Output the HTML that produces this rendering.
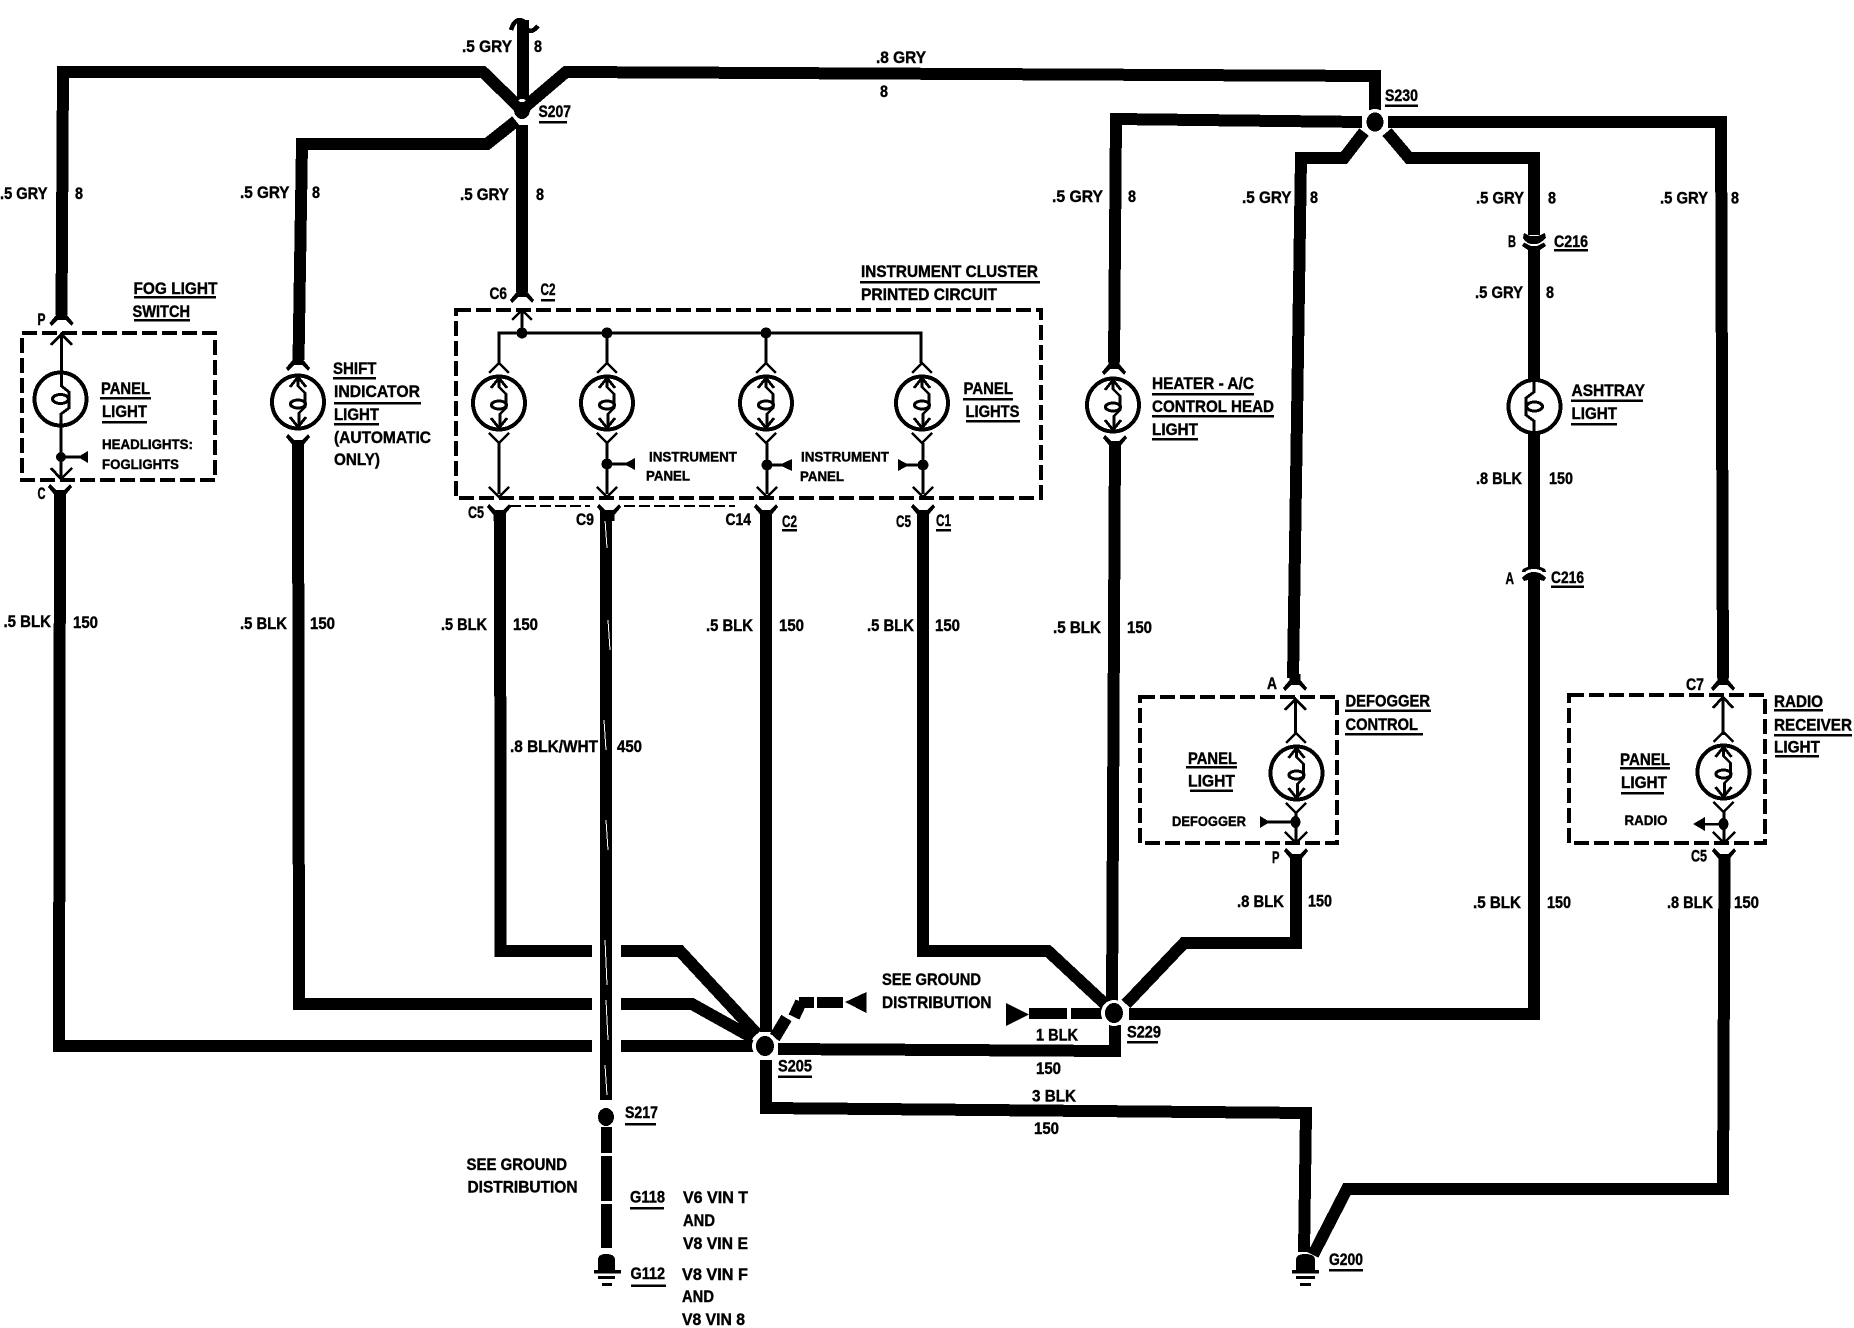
<!DOCTYPE html>
<html><head><meta charset="utf-8"><style>
html,body{margin:0;padding:0;background:#fff}
svg{display:block;shape-rendering:crispEdges}
text{font-family:"Liberation Sans",sans-serif;font-weight:bold;font-size:16.5px;fill:#000;stroke:#000;stroke-width:.4}
text.s{font-size:14px}
.w{fill:none;stroke:#000;stroke-width:12;stroke-linejoin:miter}
.t{fill:none;stroke:#000;stroke-width:2.8}
.b{fill:none;stroke:#000;stroke-width:4;stroke-dasharray:15 5}
.u{stroke:#000;stroke-width:2.5}
</style></head><body>
<svg xmlns="http://www.w3.org/2000/svg" width="1854" height="1328" viewBox="0 0 1854 1328">
<defs>
<path id="fd" d="M-5.500,-16 H5.500 V-10 L12,-2 L10,1 L4,-5 H-4 L-10,1 L-12,-2 L-5.500,-10Z"/>
<g id="ic"><path class="t" d="M-10,-30 L0,-40 L10,-30 M-10,30 L0,40 L10,30"/></g>
<g id="lamp">
<ellipse rx="26" ry="26.500" fill="#fff" stroke="#000" stroke-width="4"/>
<path class="t" d="M-8,-15 L0,-25 L8,-15 M-8,15 L0,25 L8,15 M0,-25 V-16 L7,-9 V5 L1,11 V25"/>
<ellipse cx="0" cy="2" rx="7.500" ry="4" fill="none" stroke="#000" stroke-width="3"/>
</g>
<g id="plain">
<ellipse rx="26" ry="26.500" fill="#fff" stroke="#000" stroke-width="4"/>
<ellipse cx="0" cy="0" rx="8" ry="4.500" fill="none" stroke="#000" stroke-width="3"/>
</g>
</defs>
<rect width="1854" height="1328" fill="#fff"/>

<!-- wires -->
<path class="w" d="M61.500,315 L63,72 L483,72 L520,108"/>
<path class="w" d="M523,20 V105"/>
<path d="M511,30 Q515,17 523,21 Q528,38 538,26" fill="none" stroke="#000" stroke-width="4.500"/>
<path class="w" d="M526,106 L566,72 L1375,76 L1375,110"/>
<path class="w" d="M516,121 L487,144 L302,144 L298.500,360"/>
<path class="w" d="M522,125 V292"/>
<path class="w" d="M298,442 L299,1004 L592,1004"/>
<path class="w" d="M60,491 L59,1046 L592,1046"/>
<path class="w" d="M621,1046 H755 M621,1004 H692 L753,1038 M621,951 H680 L757,1034"/>
<path class="w" d="M500,510 L500.600,951 L592,951"/>
<path class="w" d="M606,510 V1100"/>
<path d="M605,520 L607,548 M608,620 L610,650 M604,720 L606,750 M606,820 L608,850 M605,940 L607,985 M606,1000 L608,1040 M605,1065 L607,1095" stroke="#fff" stroke-width="1" fill="none"/>
<path class="w" d="M766,510 V1032"/>
<path class="w" d="M923,510 V951 H1048 L1106,1005"/>
<path class="w" d="M1115,441 L1112,1003"/>
<path class="w" d="M1126,1004 L1184,943 H1296 V855"/>
<path class="w" d="M1129,1014 H1534 V578"/>
<path class="w" d="M778,1049 L1115,1051 V1025"/>
<path class="w" d="M766,1060 V1108 L1306,1113 L1304,1252"/>
<path class="w" d="M1313,1255 L1347,1189 H1723 L1724.500,855"/>
<path class="w" d="M1362,122 L1116,119 L1114,362"/>
<path class="w" d="M1364,132 L1344,158 H1301 L1293,678"/>
<path class="w" d="M1387,132 L1409,158 H1534 V235 M1534,250 V380 M1534,434 V564"/>
<path class="w" d="M1388,122 H1721 L1723,678"/>

<!-- ground distribution stubs -->
<path d="M774.500,1038 L786.500,1018 M794,1017 L801,1002" stroke="#000" stroke-width="12" fill="none"/>
<rect x="799" y="997" width="15" height="11"/><rect x="817" y="997" width="26" height="11"/>
<path d="M845,1002 L866.500,992 V1013Z"/>
<path d="M1006,1003 L1029,1014.500 L1006,1026Z"/>
<rect x="1029" y="1008" width="38" height="11"/><rect x="1071" y="1008" width="31" height="11"/>

<!-- splices -->
<circle cx="765" cy="1046" r="13" fill="#fff"/><ellipse cx="765" cy="1046" rx="9" ry="10"/>
<circle cx="1114" cy="1013" r="13" fill="#fff"/><ellipse cx="1114" cy="1013" rx="9" ry="10"/>
<circle cx="1375" cy="122" r="13" fill="#fff"/><ellipse cx="1375" cy="122" rx="8.500" ry="9.500"/>
<ellipse cx="522" cy="110" rx="8" ry="9"/>
<ellipse cx="522" cy="100.500" rx="3.500" ry="1.500" fill="#fff"/>
<ellipse cx="606" cy="1117" rx="8" ry="9"/>
<path d="M601,1127 h11 v26 h-11Z M601,1156 h11 v45 h-11Z M601,1204 h11 v44 h-11Z"/>

<!-- grounds -->
<path d="M598,1270 V1260 Q598,1254 606,1254 Q615,1254 615,1260 V1270Z"/>
<rect x="594" y="1270" width="27" height="3.500"/><rect x="598" y="1276" width="17" height="3"/><rect x="602" y="1283" width="10" height="3"/>
<path d="M1296,1270 V1260 Q1296,1254 1305,1254 Q1315,1254 1315,1260 V1270Z"/>
<rect x="1292" y="1270" width="27" height="3.500"/><rect x="1296" y="1276" width="19" height="3"/><rect x="1300" y="1283" width="11" height="3"/>

<!-- forks -->
<use href="#fd" x="61.500" y="325"/>
<use href="#fd" x="298" y="370"/>
<use href="#fd" x="522" y="302"/>
<use href="#fd" x="1114" y="374"/>
<use href="#fd" x="1295" y="690"/>
<use href="#fd" x="1723" y="690"/>
<use href="#fd" transform="translate(60,485) scale(1,-1)"/>
<use href="#fd" transform="translate(298,435) scale(1,-1)"/>
<use href="#fd" transform="translate(499,505) scale(1,-1)"/>
<use href="#fd" transform="translate(609,505) scale(1,-1)"/>
<use href="#fd" transform="translate(766,505) scale(1,-1)"/>
<use href="#fd" transform="translate(923,505) scale(1,-1)"/>
<use href="#fd" transform="translate(1115,436) scale(1,-1)"/>
<use href="#fd" transform="translate(1296,849) scale(1,-1)"/>
<use href="#fd" transform="translate(1724,849) scale(1,-1)"/>
<!-- C216 B -->
<path d="M1524,233 L1530,236 H1538 L1545,233 L1546,238 Q1541,243 1537,244 H1531 Q1526,243 1523,238Z"/>
<path d="M1531,246 H1537 L1544,242.500 L1546,246 L1540,250 H1528 L1522,246 L1524,242.500Z"/>
<!-- C216 A -->
<path d="M1528,563 H1540 V567 Q1546,568 1546,572 L1543,572 Q1540,569 1534,569 Q1528,569 1525,572 L1522,572 Q1522,568 1528,567Z"/>
<path d="M1534,572 Q1541,572 1546,578 L1544,581 L1540,580 V590 H1528 V580 L1524,581 L1522,578 Q1527,572 1534,572Z"/>

<!-- dashed boxes -->
<rect class="b" x="22" y="333" width="193" height="147"/>
<rect class="b" x="456" y="310" width="585" height="188"/>
<rect class="b" x="1140" y="697" width="197" height="146"/>
<rect class="b" x="1569" y="695" width="196" height="148"/>
<path d="M510,506 H590 M624,506 H735" stroke="#000" stroke-width="2" stroke-dasharray="11 4" fill="none"/>

<!-- fog light internals -->
<path class="t" d="M61.500,333 V372 M61,426 V478"/>
<path class="t" d="M51,345 L61.500,334 L72,345 M51,468 L61,479 L72,468"/>
<use href="#plain" x="60.500" y="399"/>
<path class="t" d="M61.500,372 V386 L69,392 V408 L61,414 V426"/>
<circle cx="61" cy="457" r="5"/>
<path class="t" d="M61,457 H80"/><path d="M78,457 L88,451 V463Z"/>

<!-- shift lamp -->
<use href="#lamp" x="298" y="402"/>

<!-- cluster internals -->
<path d="M499,365 V333 H921 V363 M522,308 V333 M607,333 V363 M766,333 V363" fill="none" stroke="#000" stroke-width="2.800"/>
<path class="t" d="M499,443 V494 M607,443 V494 M767,443 V494 M923,443 V494"/>
<path class="t" d="M512,320 L522,310 L532,320"/>
<path class="t" d="M489,487 L499,497 L509,487 M597,487 L607,497 L617,487 M757,487 L767,497 L777,487 M913,487 L923,497 L933,487"/>
<circle cx="522" cy="333" r="5.500"/><circle cx="607" cy="333" r="5.500"/><circle cx="766" cy="333" r="5.500"/>
<use href="#ic" x="499" y="403"/><use href="#ic" x="607" y="403"/><use href="#ic" x="766" y="403"/><use href="#ic" x="922" y="403"/>
<use href="#lamp" x="499" y="403"/><use href="#lamp" x="607" y="403"/><use href="#lamp" x="766" y="403"/><use href="#lamp" x="922" y="403"/>
<circle cx="607" cy="464" r="5.500"/><circle cx="767" cy="465" r="5.500"/><circle cx="923" cy="465" r="5.500"/>
<path class="t" d="M607,464 H628 M767,465 H785 M923,465 H905"/>
<path d="M624,464 L635,458 V470Z M779,465 L792,459 V471Z M909,465 L898,459 V471Z"/>

<!-- heater, ashtray -->
<use href="#lamp" x="1113" y="405"/>
<use href="#plain" x="1534.500" y="406.500"/>
<path class="t" d="M1534,380 V392 L1526,398 V415 L1534,421 V434"/>

<!-- defogger -->
<use href="#ic" x="1296" y="773"/>
<use href="#lamp" x="1296.500" y="773"/>
<path class="t" d="M1295.500,699 V735 M1296,811 V841"/>
<path class="t" d="M1285,710 L1295.500,699 L1306,710 M1285,832 L1296,843 L1307,832"/>
<ellipse cx="1295.500" cy="822" rx="5" ry="6"/>
<path class="t" d="M1295,822 H1268"/><path d="M1260,816 L1270,822 L1260,828Z"/>

<!-- radio -->
<use href="#ic" x="1723.500" y="772"/>
<use href="#lamp" x="1723.500" y="772"/>
<path class="t" d="M1723,697 V735 M1724,811 V841"/>
<path class="t" d="M1713,708 L1723,697 L1733,708 M1713,832 L1724,843 L1735,832"/>
<ellipse cx="1723.500" cy="824" rx="5" ry="6"/>
<path class="u" d="M1723,824 H1700" fill="none"/><path d="M1693,824 L1705,817 V831Z"/>

<!-- underlines -->
<path class="u" d="M539,122 H567 M134,297 H216 M134,320 H190 M100,398 H151 M102,422 H147 M333,378 H376 M334,403 H421 M334,424 H379 M541,300 H555 M860,282 H1040 M963,399 H1013 M966,421 H1020 M782,530 H797 M936,530 H951 M1385,105.500 H1418 M1554,250 H1588 M1152,394 H1254 M1152,416 H1274 M1152,439 H1198 M1571,400.500 H1643 M1571,424 H1617 M1551,586.500 H1584 M1345,710.500 H1431 M1345,734 H1423 M1186,767 H1237 M1190,790.500 H1233 M1774,710 H1823 M1774,735 H1852 M1775,756 H1819 M1620,768 H1670 M1621,793 H1664 M778,1076.500 H812 M1127,1042 H1158 M625,1124 H656 M630,1208 H664 M631,1285.500 H666 M1329,1270 H1363"/>

<!-- labels -->
<text x="462" y="52" textLength="50" lengthAdjust="spacingAndGlyphs">.5 GRY</text>
<text x="534" y="52" textLength="8" lengthAdjust="spacingAndGlyphs">8</text>
<text x="0" y="199" textLength="47.500" lengthAdjust="spacingAndGlyphs">.5 GRY</text>
<text x="75" y="199" textLength="8" lengthAdjust="spacingAndGlyphs">8</text>
<text x="240" y="198" textLength="49.500" lengthAdjust="spacingAndGlyphs">.5 GRY</text>
<text x="312" y="198" textLength="8" lengthAdjust="spacingAndGlyphs">8</text>
<text x="460" y="200" textLength="49" lengthAdjust="spacingAndGlyphs">.5 GRY</text>
<text x="536" y="200" textLength="8" lengthAdjust="spacingAndGlyphs">8</text>
<text x="876" y="63" textLength="50" lengthAdjust="spacingAndGlyphs">.8 GRY</text>
<text x="880" y="97" textLength="8" lengthAdjust="spacingAndGlyphs">8</text>
<text x="538.500" y="117" textLength="32.500" lengthAdjust="spacingAndGlyphs">S207</text>
<text x="133.500" y="294" textLength="84" lengthAdjust="spacingAndGlyphs">FOG LIGHT</text>
<text x="132.500" y="317" textLength="57.500" lengthAdjust="spacingAndGlyphs">SWITCH</text>
<text x="37.500" y="325" textLength="8" lengthAdjust="spacingAndGlyphs">P</text>
<text x="37.500" y="499" textLength="8" lengthAdjust="spacingAndGlyphs">C</text>
<text x="101" y="394" textLength="49" lengthAdjust="spacingAndGlyphs">PANEL</text>
<text x="102" y="417" textLength="45" lengthAdjust="spacingAndGlyphs">LIGHT</text>
<text class="s" x="102" y="449" textLength="91" lengthAdjust="spacingAndGlyphs">HEADLIGHTS:</text>
<text class="s" x="102" y="469" textLength="77" lengthAdjust="spacingAndGlyphs">FOGLIGHTS</text>
<text x="333" y="374" textLength="43.500" lengthAdjust="spacingAndGlyphs">SHIFT</text>
<text x="334" y="397" textLength="86" lengthAdjust="spacingAndGlyphs">INDICATOR</text>
<text x="334" y="420" textLength="45" lengthAdjust="spacingAndGlyphs">LIGHT</text>
<text x="334" y="443" textLength="97" lengthAdjust="spacingAndGlyphs">(AUTOMATIC</text>
<text x="334" y="465" textLength="46" lengthAdjust="spacingAndGlyphs">ONLY)</text>
<text x="489.500" y="299" textLength="17.500" lengthAdjust="spacingAndGlyphs">C6</text>
<text x="540.500" y="295" textLength="15" lengthAdjust="spacingAndGlyphs">C2</text>
<text x="861" y="277" textLength="177" lengthAdjust="spacingAndGlyphs">INSTRUMENT CLUSTER</text>
<text x="861" y="300" textLength="136" lengthAdjust="spacingAndGlyphs">PRINTED CIRCUIT</text>
<text x="963.500" y="394" textLength="49.500" lengthAdjust="spacingAndGlyphs">PANEL</text>
<text x="965.500" y="417" textLength="54" lengthAdjust="spacingAndGlyphs">LIGHTS</text>
<text class="s" x="649" y="461.500" textLength="88" lengthAdjust="spacingAndGlyphs">INSTRUMENT</text>
<text class="s" x="646" y="480.500" textLength="44" lengthAdjust="spacingAndGlyphs">PANEL</text>
<text class="s" x="801" y="461.500" textLength="88" lengthAdjust="spacingAndGlyphs">INSTRUMENT</text>
<text class="s" x="800" y="481" textLength="44" lengthAdjust="spacingAndGlyphs">PANEL</text>
<text x="468" y="518" textLength="16" lengthAdjust="spacingAndGlyphs">C5</text>
<text x="576" y="525" textLength="18" lengthAdjust="spacingAndGlyphs">C9</text>
<text x="725.500" y="525" textLength="25.500" lengthAdjust="spacingAndGlyphs">C14</text>
<text x="782" y="527" textLength="15" lengthAdjust="spacingAndGlyphs">C2</text>
<text x="896" y="527" textLength="15" lengthAdjust="spacingAndGlyphs">C5</text>
<text x="936" y="526" textLength="15" lengthAdjust="spacingAndGlyphs">C1</text>

<text x="3.500" y="627" textLength="47.500" lengthAdjust="spacingAndGlyphs">.5 BLK</text>
<text x="73" y="628" textLength="25" lengthAdjust="spacingAndGlyphs">150</text>
<text x="240" y="629" textLength="47" lengthAdjust="spacingAndGlyphs">.5 BLK</text>
<text x="310" y="629" textLength="25" lengthAdjust="spacingAndGlyphs">150</text>
<text x="441" y="630" textLength="46" lengthAdjust="spacingAndGlyphs">.5 BLK</text>
<text x="513" y="630" textLength="25" lengthAdjust="spacingAndGlyphs">150</text>
<text x="706" y="631" textLength="47" lengthAdjust="spacingAndGlyphs">.5 BLK</text>
<text x="779" y="631" textLength="25" lengthAdjust="spacingAndGlyphs">150</text>
<text x="867" y="631" textLength="47" lengthAdjust="spacingAndGlyphs">.5 BLK</text>
<text x="935" y="631" textLength="25" lengthAdjust="spacingAndGlyphs">150</text>
<text x="1053" y="633" textLength="48" lengthAdjust="spacingAndGlyphs">.5 BLK</text>
<text x="1127" y="633" textLength="25" lengthAdjust="spacingAndGlyphs">150</text>
<text x="510" y="752" textLength="88" lengthAdjust="spacingAndGlyphs">.8 BLK/WHT</text>
<text x="617" y="752" textLength="25" lengthAdjust="spacingAndGlyphs">450</text>

<text x="1052" y="202" textLength="51" lengthAdjust="spacingAndGlyphs">.5 GRY</text>
<text x="1128" y="202" textLength="8" lengthAdjust="spacingAndGlyphs">8</text>
<text x="1242" y="203" textLength="49.500" lengthAdjust="spacingAndGlyphs">.5 GRY</text>
<text x="1310" y="203" textLength="8" lengthAdjust="spacingAndGlyphs">8</text>
<text x="1476" y="203.500" textLength="48" lengthAdjust="spacingAndGlyphs">.5 GRY</text>
<text x="1548" y="203.500" textLength="8" lengthAdjust="spacingAndGlyphs">8</text>
<text x="1660" y="203.500" textLength="48" lengthAdjust="spacingAndGlyphs">.5 GRY</text>
<text x="1731" y="203.500" textLength="8" lengthAdjust="spacingAndGlyphs">8</text>
<text x="1385" y="101" textLength="33" lengthAdjust="spacingAndGlyphs">S230</text>
<text x="1508" y="247" textLength="8" lengthAdjust="spacingAndGlyphs">B</text>
<text x="1554" y="247" textLength="34" lengthAdjust="spacingAndGlyphs">C216</text>
<text x="1475" y="298" textLength="48" lengthAdjust="spacingAndGlyphs">.5 GRY</text>
<text x="1546" y="298" textLength="8" lengthAdjust="spacingAndGlyphs">8</text>
<text x="1152" y="389" textLength="102" lengthAdjust="spacingAndGlyphs">HEATER - A/C</text>
<text x="1152" y="412" textLength="122" lengthAdjust="spacingAndGlyphs">CONTROL HEAD</text>
<text x="1152" y="435" textLength="46" lengthAdjust="spacingAndGlyphs">LIGHT</text>
<text x="1571.500" y="396" textLength="73.500" lengthAdjust="spacingAndGlyphs">ASHTRAY</text>
<text x="1571.500" y="419" textLength="45.500" lengthAdjust="spacingAndGlyphs">LIGHT</text>
<text x="1476" y="484" textLength="46" lengthAdjust="spacingAndGlyphs">.8 BLK</text>
<text x="1549" y="484" textLength="24" lengthAdjust="spacingAndGlyphs">150</text>
<text x="1505.500" y="584" textLength="8.500" lengthAdjust="spacingAndGlyphs">A</text>
<text x="1551" y="583" textLength="33" lengthAdjust="spacingAndGlyphs">C216</text>

<text x="1267" y="689" textLength="10" lengthAdjust="spacingAndGlyphs">A</text>
<text x="1345.500" y="706.500" textLength="84.500" lengthAdjust="spacingAndGlyphs">DEFOGGER</text>
<text x="1345.500" y="730" textLength="72.500" lengthAdjust="spacingAndGlyphs">CONTROL</text>
<text x="1188" y="764" textLength="49" lengthAdjust="spacingAndGlyphs">PANEL</text>
<text x="1188" y="786.500" textLength="47" lengthAdjust="spacingAndGlyphs">LIGHT</text>
<text class="s" x="1172" y="826" textLength="74" lengthAdjust="spacingAndGlyphs">DEFOGGER</text>
<text x="1272" y="863" textLength="7.500" lengthAdjust="spacingAndGlyphs">P</text>
<text x="1237" y="907" textLength="47" lengthAdjust="spacingAndGlyphs">.8 BLK</text>
<text x="1308" y="906.500" textLength="24" lengthAdjust="spacingAndGlyphs">150</text>
<text x="1473" y="908" textLength="48" lengthAdjust="spacingAndGlyphs">.5 BLK</text>
<text x="1547" y="908" textLength="24" lengthAdjust="spacingAndGlyphs">150</text>
<text x="1667" y="908" textLength="46" lengthAdjust="spacingAndGlyphs">.8 BLK</text>
<text x="1734" y="908" textLength="25" lengthAdjust="spacingAndGlyphs">150</text>
<text x="1686" y="690" textLength="18" lengthAdjust="spacingAndGlyphs">C7</text>
<text x="1774" y="707" textLength="49" lengthAdjust="spacingAndGlyphs">RADIO</text>
<text x="1774" y="730.500" textLength="78" lengthAdjust="spacingAndGlyphs">RECEIVER</text>
<text x="1774" y="752.500" textLength="46" lengthAdjust="spacingAndGlyphs">LIGHT</text>
<text x="1620" y="765" textLength="50" lengthAdjust="spacingAndGlyphs">PANEL</text>
<text x="1621" y="788" textLength="46" lengthAdjust="spacingAndGlyphs">LIGHT</text>
<text class="s" x="1624.500" y="825" textLength="43" lengthAdjust="spacingAndGlyphs">RADIO</text>
<text x="1691" y="861.500" textLength="16" lengthAdjust="spacingAndGlyphs">C5</text>

<text x="882" y="985" textLength="99" lengthAdjust="spacingAndGlyphs">SEE GROUND</text>
<text x="882" y="1008" textLength="109.500" lengthAdjust="spacingAndGlyphs">DISTRIBUTION</text>
<text x="1036" y="1040.500" textLength="42" lengthAdjust="spacingAndGlyphs">1 BLK</text>
<text x="1036" y="1074" textLength="25" lengthAdjust="spacingAndGlyphs">150</text>
<text x="1032" y="1101.500" textLength="44" lengthAdjust="spacingAndGlyphs">3 BLK</text>
<text x="1034" y="1134" textLength="25" lengthAdjust="spacingAndGlyphs">150</text>
<text x="778" y="1071.500" textLength="34" lengthAdjust="spacingAndGlyphs">S205</text>
<text x="1127" y="1037.500" textLength="34" lengthAdjust="spacingAndGlyphs">S229</text>
<text x="625" y="1118" textLength="33" lengthAdjust="spacingAndGlyphs">S217</text>
<text x="466.500" y="1170" textLength="100.500" lengthAdjust="spacingAndGlyphs">SEE GROUND</text>
<text x="467.500" y="1192.500" textLength="110" lengthAdjust="spacingAndGlyphs">DISTRIBUTION</text>
<text x="630" y="1202.500" textLength="35" lengthAdjust="spacingAndGlyphs">G118</text>
<text x="683" y="1203" textLength="65" lengthAdjust="spacingAndGlyphs">V6 VIN T</text>
<text x="683" y="1226" textLength="32" lengthAdjust="spacingAndGlyphs">AND</text>
<text x="683" y="1249" textLength="65" lengthAdjust="spacingAndGlyphs">V8 VIN E</text>
<text x="630.500" y="1279" textLength="34.500" lengthAdjust="spacingAndGlyphs">G112</text>
<text x="682" y="1280" textLength="66" lengthAdjust="spacingAndGlyphs">V8 VIN F</text>
<text x="682" y="1302" textLength="32" lengthAdjust="spacingAndGlyphs">AND</text>
<text x="682" y="1325" textLength="63" lengthAdjust="spacingAndGlyphs">V8 VIN 8</text>
<text x="1329" y="1265" textLength="34" lengthAdjust="spacingAndGlyphs">G200</text>
</svg>
</body></html>
